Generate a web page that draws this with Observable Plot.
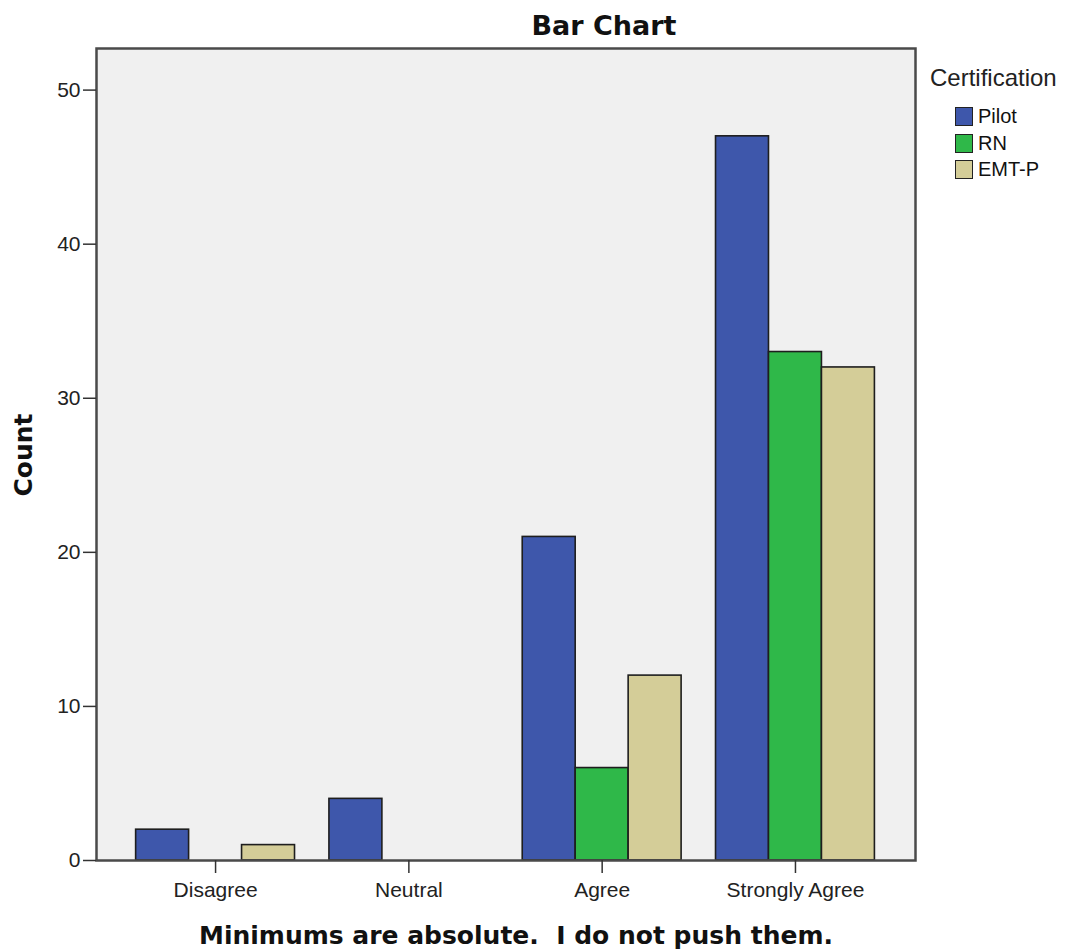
<!DOCTYPE html>
<html>
<head>
<meta charset="utf-8">
<script src="https://cdn.jsdelivr.net/npm/d3@7"></script>
<script src="https://cdn.jsdelivr.net/npm/@observablehq/plot@0.6"></script>
<style>
  body { margin: 0; background: #fff; }
  #wrap { position: relative; width: 1072px; height: 951px; overflow: hidden; background: #fff; }
  #wrap svg { position: absolute; left: 0; top: 0; }
  .txt { position: absolute; white-space: pre; color: #111; line-height: 1; }
  #title { top: 10px; left: 0; width: 1208px; text-align: center; font: bold 27px "DejaVu Sans", sans-serif; }
  #caption { top: 921px; left: 0; width: 1032px; text-align: center; font: bold 25px "DejaVu Sans", sans-serif; }
  #ylab { left: 23px; top: 455px; transform: translate(-50%, -50%) rotate(-90deg); font: bold 25px "DejaVu Sans", sans-serif; }
  #legtitle { left: 930px; top: 64px; font: 24px "Liberation Sans", Arial, sans-serif; color: #222; }
  .legrow { position: absolute; left: 955px; height: 20px; }
  .sw { position: absolute; left: 0; top: 0; width: 18px; height: 19px; box-sizing: border-box; border: 1.5px solid #222; }
  .lab { position: absolute; left: 23px; top: -1px; font: 20px "Liberation Sans", Arial, sans-serif; line-height: 1; color: #111; white-space: pre; }
</style>
</head>
<body>
<div id="wrap"></div>
<script>
// ---- data ----
const categories = ["Disagree", "Neutral", "Agree", "Strongly Agree"];
const series = ["Pilot", "RN", "EMT-P"];
const pilot = [2, 4, 21, 47];
const rn = [0, 0, 6, 33];
const emtp = [1, 0, 12, 32];
const colors = ["#3e57ab", "#2fb849", "#d4cd98"];
const yTicks = [0, 10, 20, 30, 40, 50];
const titleText = "Bar Chart";
const captionText = "Minimums are absolute.  I do not push them.";
const yLabel = "Count";
const legendTitle = "Certification";

// ---- build table ----
const valuesBySeries = [pilot, rn, emtp];
const barW = 0.274;
const rows = [];
categories.forEach((c, i) => {
  series.forEach((s, j) => {
    rows.push({cat: c, i, s, j, value: valuesBySeries[j][i]});
  });
});
const visible = rows.filter(d => d.value > 0);

const chart = Plot.plot({
  width: 1072,
  height: 951,
  marginLeft: 96,
  marginRight: 157,
  marginTop: 48,
  marginBottom: 91,
  style: {fontFamily: '"Liberation Sans", Arial, sans-serif', fontSize: "21px", color: "#222", background: "transparent"},
  x: {domain: [-0.616, 3.621]},
  y: {domain: [0, 52.7]},
  color: {domain: series, range: colors},
  marks: [
    Plot.frame({fill: "#f0f0f0", stroke: "none"}),
    Plot.rect(visible, {
      x1: d => d.i + (d.j - 1.5) * barW,
      x2: d => d.i + (d.j - 0.5) * barW,
      y1: 0,
      y2: "value",
      fill: "s",
      stroke: "#1e1e1e",
      strokeWidth: 1.6
    }),
    Plot.frame({stroke: "#4a4a4a", strokeWidth: 2.5}),
    Plot.axisX({ticks: [0, 1, 2, 3], tickFormat: i => categories[i], tickSize: 13, tickPadding: 9, fontSize: 21, label: null, stroke: "#333", strokeWidth: 1.5}),
    Plot.axisY({ticks: yTicks, tickSize: 13, tickPadding: 3, fontSize: 21, label: null, stroke: "#333", strokeWidth: 1.5})
  ]
});

const wrap = document.getElementById("wrap");
wrap.appendChild(chart);

function addText(id, text) {
  const el = document.createElement("div");
  el.id = id;
  el.className = "txt";
  el.textContent = text;
  wrap.appendChild(el);
}
addText("title", titleText);
addText("caption", captionText);
addText("ylab", yLabel);
addText("legtitle", legendTitle);

series.forEach((s, j) => {
  const row = document.createElement("div");
  row.className = "legrow";
  row.style.top = (107 + 26.5 * j) + "px";
  const sw = document.createElement("div");
  sw.className = "sw";
  sw.style.background = colors[j];
  const lab = document.createElement("div");
  lab.className = "lab";
  lab.textContent = s;
  row.appendChild(sw);
  row.appendChild(lab);
  wrap.appendChild(row);
});
</script>
</body>
</html>
